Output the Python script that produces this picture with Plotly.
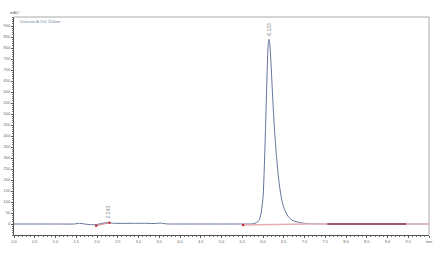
import plotly.graph_objects as go

# chromatogram signal (min, mAU)
time_min = [0.0, 0.5, 1.0, 1.45, 1.52, 1.58, 1.64, 1.70, 1.78, 1.90, 1.98, 2.05, 2.12, 2.18, 2.24,
            2.30, 2.40, 2.60, 2.90, 3.20, 3.35, 3.45, 3.52, 3.58, 3.65, 3.75, 4.0, 4.5, 5.0, 5.5,
            5.70, 5.78, 5.84, 5.90, 5.95, 6.00, 6.03, 6.06, 6.09, 6.12, 6.14, 6.16, 6.19, 6.22,
            6.25, 6.28, 6.32, 6.36, 6.40, 6.45, 6.50, 6.60, 6.70, 6.85, 7.00, 7.20, 7.5, 8.0,
            8.5, 9.0, 9.5, 10.0]
signal_mau = [0, 0, 0, 0, 2, 3, 2, 0, -2, -3, -3, 0, 3, 5, 6,
              5, 3, 3, 3, 3, 2, 3, 4, 3, 1, 0, 0, 0, 0, 0,
              0, 2, 6, 16, 45, 120, 250, 430, 630, 800, 840, 825, 740, 625,
              515, 420, 320, 235, 170, 112, 75, 36, 18, 8, 3, 1, 0, 0,
              0, 0, 0, 0]

# integration baselines
base1_t = [1.98, 2.30]
base1_y = [-8, 6]
base2_t = [5.52, 7.1, 7.55, 9.45, 10.0]
base2_y = [-4, 0, 0, 0, 0]

peak_rt = [2.243, 6.133]
peak_h = [8, 840]
peak_labels = ["2.243", "6.133"]

x_tickvals = [0.0, 0.5, 1.0, 1.5, 2.0, 2.5, 3.0, 3.5, 4.0, 4.5, 5.0, 5.5, 6.0, 6.5,
              7.0, 7.5, 8.0, 8.5, 9.0, 9.5, 10.0]
x_ticktext = ["0.0", "0.5", "1.0", "1.5", "2.0", "2.5", "3.0", "3.5", "4.0", "4.5", "5.0",
              "5.5", "6.0", "6.5", "7.0", "7.5", "8.0", "8.5", "9.0", "9.5", "min"]
y_tickvals = list(range(0, 901, 50))
y_ticktext = [str(v) for v in y_tickvals]

fig = go.Figure()
fig.add_trace(go.Scatter(x=time_min, y=signal_mau, mode="lines",
                         line=dict(color="#62729a", width=1, shape="spline", smoothing=0.6),
                         hoverinfo="skip", showlegend=False))
fig.add_trace(go.Scatter(x=base1_t, y=base1_y, mode="lines+markers",
                         line=dict(color="#d9868a", width=1),
                         marker=dict(color="#c0303a", size=2.5),
                         showlegend=False))
fig.add_trace(go.Scatter(x=base2_t[:2], y=base2_y[:2], mode="lines",
                         line=dict(color="#e6aeb2", width=1.5),
                         showlegend=False))
fig.add_trace(go.Scatter(x=base2_t[:1], y=base2_y[:1], mode="markers",
                         marker=dict(color="#c0303a", size=2.5),
                         showlegend=False))
fig.add_trace(go.Scatter(x=base2_t[1:], y=base2_y[1:], mode="lines",
                         line=dict(color="#e8b7bb", width=1.5),
                         showlegend=False))
fig.add_trace(go.Scatter(x=base2_t[2:4], y=base2_y[2:4], mode="lines",
                         line=dict(color="#8a3a48", width=1.5),
                         showlegend=False))

for rt, h, lab in zip(peak_rt, peak_h, peak_labels):
    fig.add_annotation(x=rt, y=h, text=lab, showarrow=False, textangle=-90,
                       yshift=10, xshift=1, font=dict(size=5, color="#8c8c8c", family="Arial"))

fig.add_annotation(x=0, y=1, xref="paper", yref="paper", text="mAU", showarrow=False,
                   xanchor="center", yanchor="bottom", yshift=0,
                   font=dict(size=4, color="#666666", family="Arial"))
fig.add_annotation(x=0.01, y=1, xref="paper", yref="paper", text="Detector A Ch1 254nm",
                   showarrow=False, xanchor="left", yanchor="top",
                   font=dict(size=4, color="#7080a8", family="Arial"))

fig.update_layout(
    width=445, height=261,
    margin=dict(l=14, r=16, t=17, b=26),
    paper_bgcolor="white", plot_bgcolor="white",
    font=dict(family="Arial", size=4, color="#666666"),
    xaxis=dict(range=[0, 10], tickvals=x_tickvals, ticktext=x_ticktext, automargin=False,
               showgrid=False, zeroline=False, showline=True, linecolor="#555555",
               linewidth=1, mirror=False, ticks="outside", ticklen=2, tickcolor="#555555",
               minor=dict(dtick=0.1, ticks="outside", ticklen=1, tickcolor="#777777"),
               tickfont=dict(size=4, color="#666666")),
    yaxis=dict(range=[-50, 941], tickvals=y_tickvals, ticktext=y_ticktext, automargin=False,
               showgrid=False, zeroline=False, showline=True, linecolor="#555555",
               linewidth=1, ticks="outside", ticklen=2, tickcolor="#555555",
               minor=dict(dtick=10, ticks="outside", ticklen=1, tickcolor="#777777"),
               tickfont=dict(size=4, color="#666666")),
    shapes=[
        dict(type="line", xref="paper", yref="paper", x0=0, x1=1, y0=1, y1=1,
             line=dict(color="#aaaaaa", width=1)),
        dict(type="line", xref="paper", yref="paper", x0=1, x1=1, y0=0, y1=1,
             line=dict(color="#aaaaaa", width=1)),
    ],
)

fig.write_html("out.html")
